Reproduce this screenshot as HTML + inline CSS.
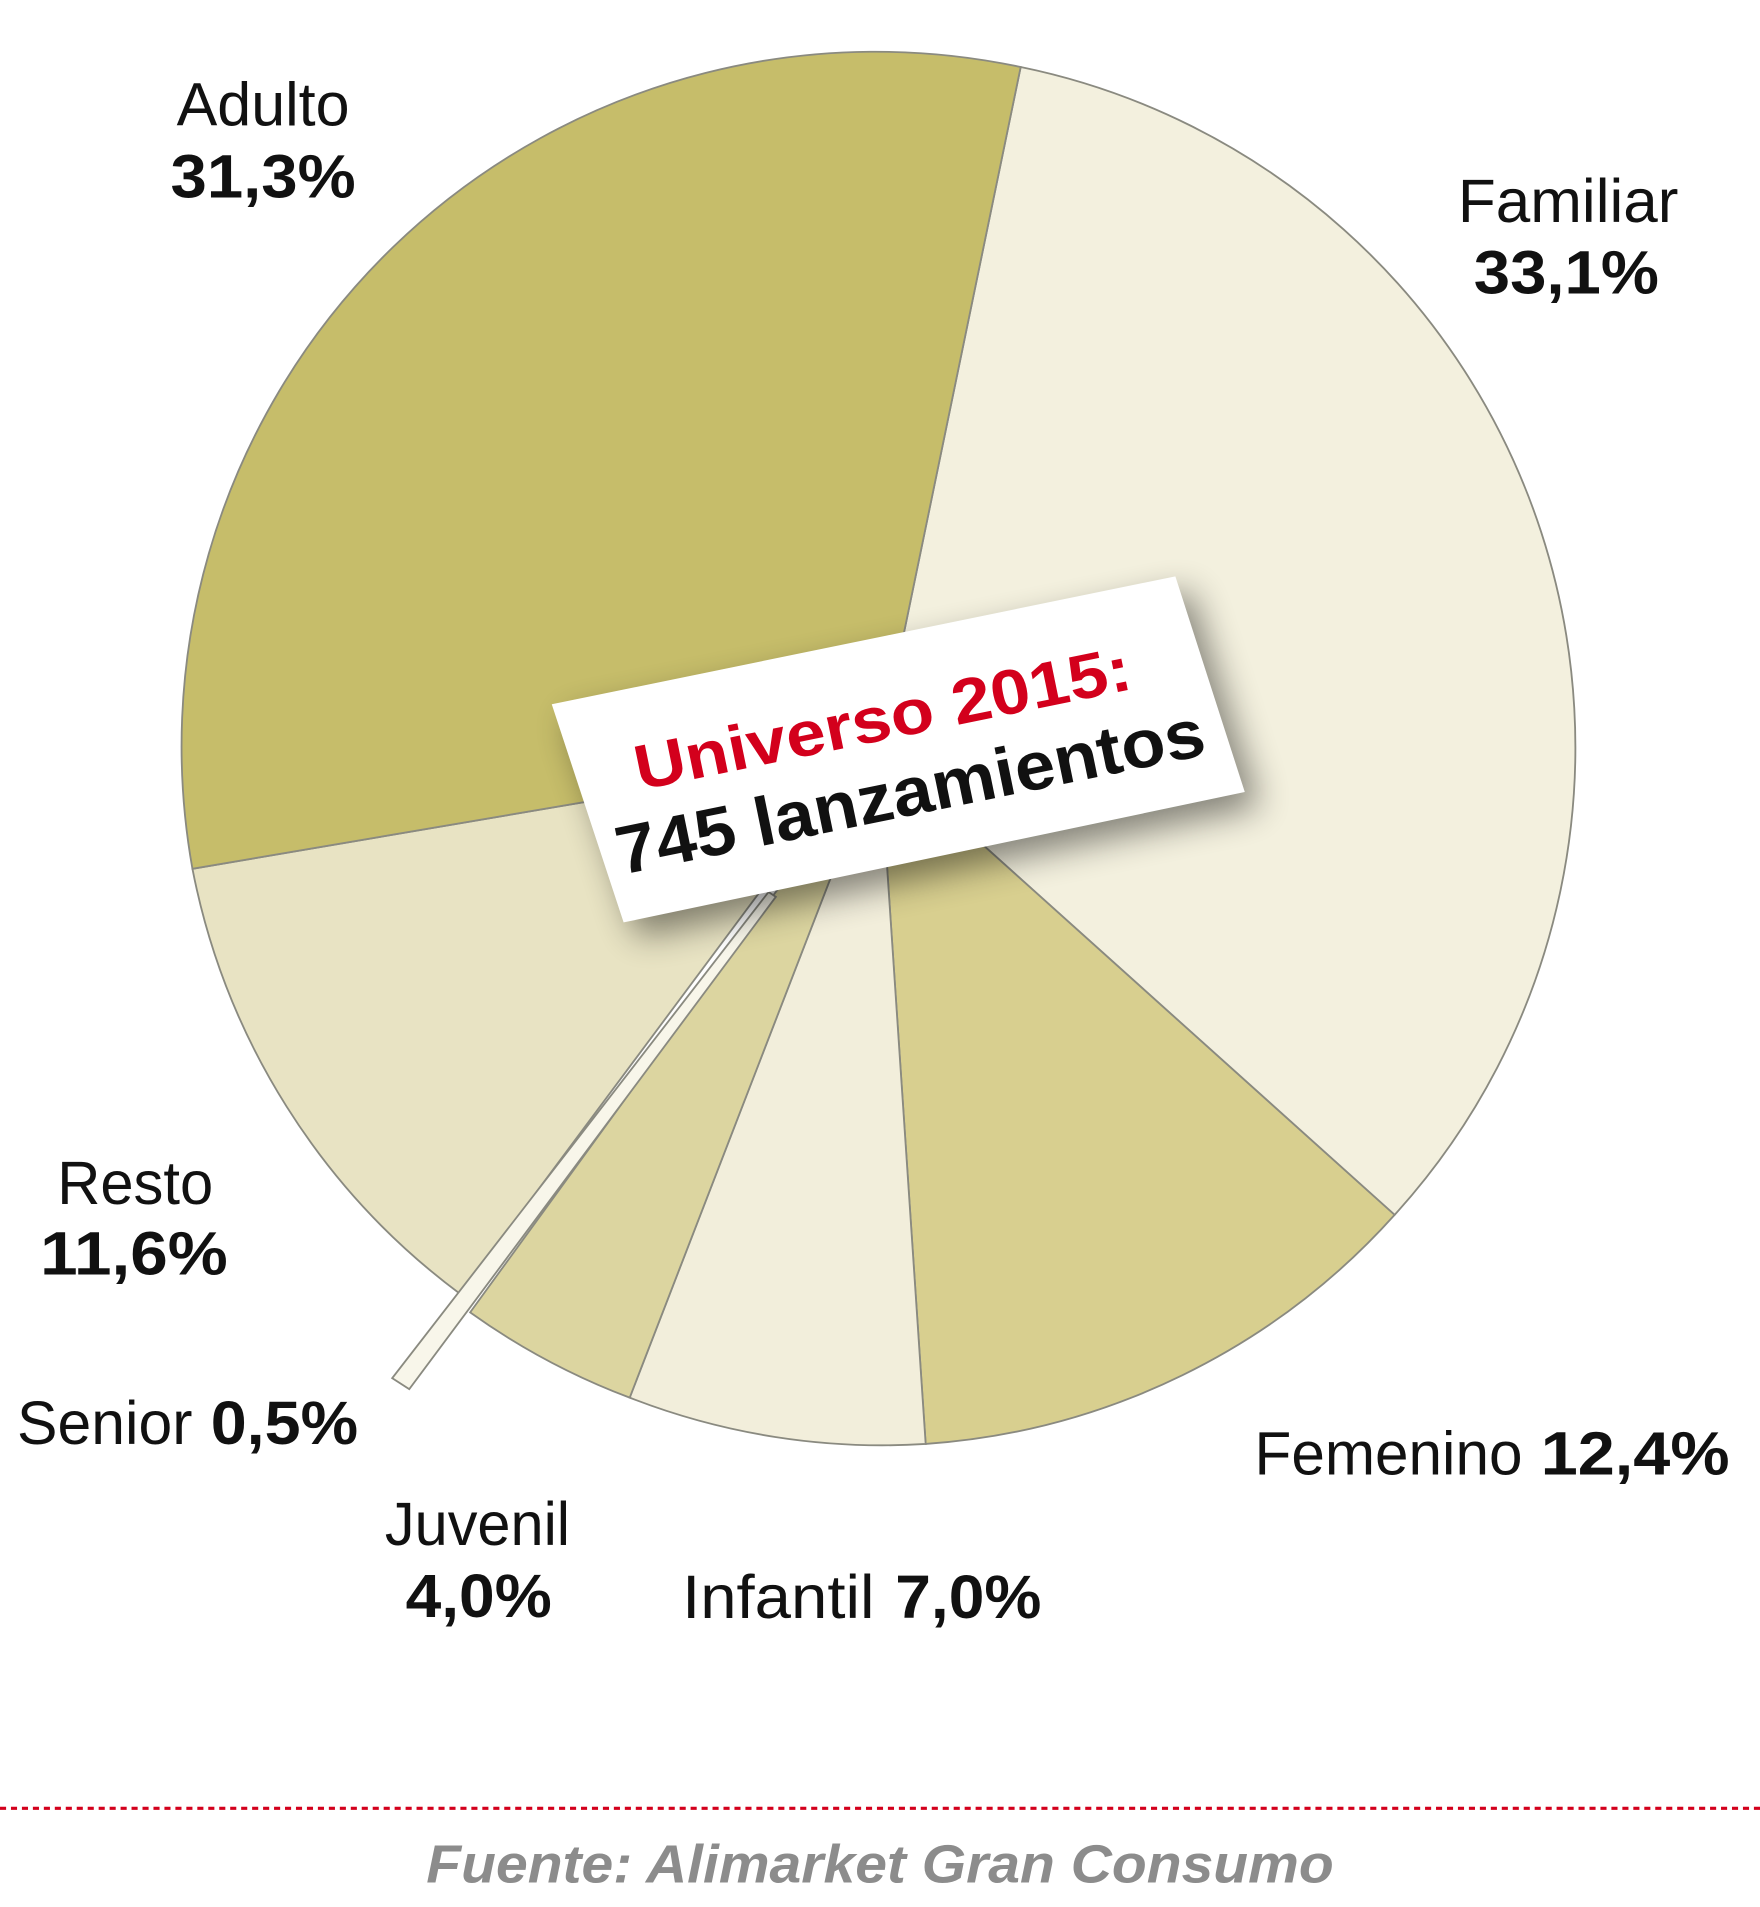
<!DOCTYPE html>
<html><head><meta charset="utf-8"><style>
html,body{margin:0;padding:0;background:#fff;}
svg{display:block;}
text{font-family:"Liberation Sans",sans-serif;}
</style></head><body>
<svg width="1760" height="1907" viewBox="0 0 1445 1565" preserveAspectRatio="none">
<defs>
<filter id="sh" x="-30%" y="-30%" width="160%" height="160%"><feGaussianBlur stdDeviation="14"/></filter>
</defs>
<g stroke="#8a8a80" stroke-width="1.5">
<path d="M722,617 L838,55 A570,570 0 0 1 1145,997 Z" fill="#f3f0de"/>
<path d="M722,617 L1145,997 A570,570 0 0 1 760,1185 Z" fill="#d8cf8f"/>
<path d="M722,617 L760,1185 A570,570 0 0 1 517,1147 Z" fill="#f2eedb"/>
<path d="M722,617 L517,1147 A570,570 0 0 1 386,1077 L634,736 Z" fill="#dcd5a0"/>
<path d="M722,617 L626,729 L378,1062 A570,570 0 0 1 158,713 Z" fill="#e8e3c3"/>
<path d="M722,617 L158,713 A570,570 0 0 1 838,55 Z" fill="#c6bd6a"/>
<path d="M631,732 L637,736 L336,1140 L322,1131 Z" fill="#f8f6ea"/>
</g>
<polygon points="465,590 977,485 1034,662 524,769" fill="#000" opacity="0.45" filter="url(#sh)"/>
<polygon points="453,578 965,473 1022,650 512,757" fill="#fff"/>
<g transform="translate(738,615) rotate(-11.6)">
<text x="-8" y="-10" font-size="52" font-weight="bold" fill="#d3001c" text-anchor="middle" textLength="415" lengthAdjust="spacingAndGlyphs">Universo 2015:</text>
<text x="2" y="55" font-size="56" font-weight="bold" fill="#111" text-anchor="middle" textLength="492" lengthAdjust="spacingAndGlyphs">745 lanzamientos</text>
</g>
<g fill="#111" font-size="50">
<text x="145" y="103" textLength="142" lengthAdjust="spacingAndGlyphs">Adulto</text>
<text x="140" y="162" font-weight="bold" textLength="152" lengthAdjust="spacingAndGlyphs">31,3%</text>
<text x="1197" y="182" textLength="181" lengthAdjust="spacingAndGlyphs">Familiar</text>
<text x="1210" y="241" font-weight="bold" textLength="152" lengthAdjust="spacingAndGlyphs">33,1%</text>
<text x="47" y="988" textLength="128" lengthAdjust="spacingAndGlyphs">Resto</text>
<text x="33" y="1046" font-weight="bold" textLength="154" lengthAdjust="spacingAndGlyphs">11,6%</text>
<text x="14" y="1185" textLength="144" lengthAdjust="spacingAndGlyphs">Senior</text>
<text x="173" y="1185" font-weight="bold" textLength="121" lengthAdjust="spacingAndGlyphs">0,5%</text>
<text x="1030" y="1210" textLength="220" lengthAdjust="spacingAndGlyphs">Femenino</text>
<text x="1265" y="1210" font-weight="bold" textLength="155" lengthAdjust="spacingAndGlyphs">12,4%</text>
<text x="316" y="1268" textLength="152" lengthAdjust="spacingAndGlyphs">Juvenil</text>
<text x="333" y="1327" font-weight="bold" textLength="120" lengthAdjust="spacingAndGlyphs">4,0%</text>
<text x="560" y="1328" textLength="158" lengthAdjust="spacingAndGlyphs">Infantil</text>
<text x="735" y="1328" font-weight="bold" textLength="120" lengthAdjust="spacingAndGlyphs">7,0%</text>
</g>
<line x1="0" y1="1484" x2="1445" y2="1484" stroke="#d3001c" stroke-width="2.5" stroke-dasharray="5,4"/>
<text x="350" y="1545" font-size="44" font-style="italic" font-weight="bold" fill="#8c8c8c" textLength="745" lengthAdjust="spacingAndGlyphs">Fuente: Alimarket Gran Consumo</text>
</svg>
</body></html>
